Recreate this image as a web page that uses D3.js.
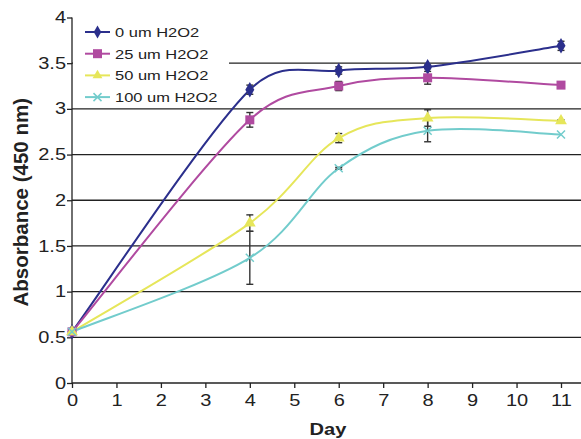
<!DOCTYPE html>
<html>
<head>
<script src="https://d3js.org/d3.v7.min.js"></script>
<style>
body { margin: 0; background: #fff; }
text { font-family: "Liberation Sans", Arial, sans-serif; fill: #222; }
</style>
</head>
<body>
<div id="chart"></div>
<script>
// Data
var days = [0, 4, 6, 8, 11];
var seriesNames = ["0 um H2O2", "25 um H2O2", "50 um H2O2", "100 um H2O2"];
var abs0   = [0.56, 3.21, 3.42, 3.46, 3.69];
var abs25  = [0.56, 2.88, 3.25, 3.34, 3.26];
var abs50  = [0.56, 1.75, 2.68, 2.90, 2.87];
var abs100 = [0.56, 1.37, 2.35, 2.76, 2.72];
var err0   = [0, 0.05, 0.04, 0.02, 0.05];
var err25  = [0, 0.08, 0.05, 0.07, 0];
var err50  = [0, 0.09, 0.05, 0.09, 0.01];
var err100 = [0, 0.29, 0.01, 0.12, 0];
var yTicks = [0, 0.5, 1, 1.5, 2, 2.5, 3, 3.5, 4];
var xTicks = [0, 1, 2, 3, 4, 5, 6, 7, 8, 9, 10, 11];
var colors = ["#2b2f8c", "#b04aa0", "#e6e65a", "#72cccc"];
var shapes = ["diamond", "square", "triangle", "cross"];

var series = seriesNames.map(function(n, i) {
  var v = [abs0, abs25, abs50, abs100][i];
  var e = [err0, err25, err50, err100][i];
  return { name: n, color: colors[i], shape: shapes[i],
    values: days.map(function(d, j) { return { day: d, v: v[j], e: e[j] }; }) };
});

var W = 581, H = 439;
var svg = d3.select("#chart").append("svg").attr("width", W).attr("height", H);
svg.append("rect").attr("width", W).attr("height", H).attr("fill", "#fff");

var x = d3.scaleLinear().domain([0, 11]).range([72, 561]);
var y = d3.scaleLinear().domain([0, 4]).range([383, 17.5]);
var stretch = 1.25;

// gridlines
svg.append("g").selectAll("line")
  .data(yTicks.filter(function(t) { return t > 0 && t < 4; }))
  .enter().append("line")
  .attr("x1", x(0)).attr("x2", W)
  .attr("y1", function(d) { return y(d); }).attr("y2", function(d) { return y(d); })
  .attr("stroke", "#222").attr("stroke-width", 1.3);

// axes
var yAxis = svg.append("g").attr("transform", "translate(" + x(0) + ",0)")
  .call(d3.axisLeft(y).tickValues(yTicks).tickSize(5).tickPadding(1)
    .tickFormat(function(d) { return d; }));
var xAxis = svg.append("g").attr("transform", "translate(0," + y(0) + ")")
  .call(d3.axisBottom(x).tickValues(xTicks).tickSize(5).tickPadding(7)
    .tickFormat(d3.format("d")));
[xAxis, yAxis].forEach(function(a) {
  a.select(".domain").remove();
  a.selectAll("line").attr("stroke", "#222").attr("stroke-width", 1.3);
  a.selectAll("text").attr("font-size", 16).attr("fill", "#222")
    .attr("font-family", "Liberation Sans, Arial, sans-serif")
    .attr("transform", "scale(" + stretch + ",1)");
});
yAxis.selectAll("text").attr("x", -6 / stretch);
svg.append("line").attr("x1", x(0)).attr("x2", x(0)).attr("y1", y(4)).attr("y2", y(0))
  .attr("stroke", "#222").attr("stroke-width", 1.3);
svg.append("line").attr("x1", x(0)).attr("x2", W).attr("y1", y(0)).attr("y2", y(0))
  .attr("stroke", "#222").attr("stroke-width", 1.3);

// titles
svg.append("text").attr("transform", "translate(28," + ((y(0) + y(4)) / 2 + 2) + ") rotate(-90)")
  .attr("text-anchor", "middle").attr("font-weight", "bold").attr("font-size", 20.5)
  .text("Absorbance (450 nm)");
svg.append("text").attr("transform", "translate(328,435) scale(1.18,1)")
  .attr("text-anchor", "middle").attr("font-weight", "bold").attr("font-size", 17)
  .text("Day");

// marker drawing
function marker(g, shape, color, size) {
  if (shape === "diamond") {
    g.append("path").attr("d", d3.symbol(d3.symbolDiamond, size * 7)()).attr("fill", color);
  } else if (shape === "square") {
    g.append("rect").attr("x", -4.5).attr("y", -4.5).attr("width", 9).attr("height", 9).attr("fill", color);
  } else if (shape === "triangle") {
    g.append("path").attr("d", d3.symbol(d3.symbolTriangle, size * 6)()).attr("fill", color);
  } else {
    g.append("path").attr("d", "M-4,-4L4,4M-4,4L4,-4").attr("stroke", color).attr("stroke-width", 1.5);
  }
}

// spreadsheet-style smoothed line: bezier with control vectors (P2-P0)/6,
// capped at half the segment length
function smoothPath(vals) {
  var p = vals.map(function(d) { return [x(d.day), y(d.v)]; });
  var path = d3.path();
  path.moveTo(p[0][0], p[0][1]);
  function ctrl(a, b, seg) {
    var dx = (b[0] - a[0]) / 6, dy = (b[1] - a[1]) / 6;
    var len = Math.hypot(dx, dy), cap = seg / 2;
    if (len > cap) { dx *= cap / len; dy *= cap / len; }
    return [dx, dy];
  }
  for (var i = 0; i < p.length - 1; i++) {
    var p0 = p[Math.max(i - 1, 0)], p1 = p[i], p2 = p[i + 1], p3 = p[Math.min(i + 2, p.length - 1)];
    var seg = Math.hypot(p2[0] - p1[0], p2[1] - p1[1]);
    var c1 = ctrl(p0, p2, seg), c2 = ctrl(p1, p3, seg);
    path.bezierCurveTo(p1[0] + c1[0], p1[1] + c1[1], p2[0] - c2[0], p2[1] - c2[1], p2[0], p2[1]);
  }
  return path.toString();
}

// lines
svg.append("g").selectAll("path").data(series).enter().append("path")
  .attr("d", function(d) { return smoothPath(d.values); })
  .attr("fill", "none").attr("stroke", function(d) { return d.color; })
  .attr("stroke-width", 2);

// error bars
series.forEach(function(s) {
  var eb = svg.append("g").selectAll("g").data(s.values.filter(function(d) { return d.e > 0; }))
    .enter().append("g").attr("stroke", "#333").attr("stroke-width", 1.4);
  eb.append("line").attr("x1", function(d) { return x(d.day); }).attr("x2", function(d) { return x(d.day); })
    .attr("y1", function(d) { return y(d.v - d.e); }).attr("y2", function(d) { return y(d.v + d.e); });
  [-1, 1].forEach(function(sg) {
    eb.append("line").attr("x1", function(d) { return x(d.day) - 3.5; }).attr("x2", function(d) { return x(d.day) + 3.5; })
      .attr("y1", function(d) { return y(d.v + sg * d.e); }).attr("y2", function(d) { return y(d.v + sg * d.e); });
  });
});

// markers
series.forEach(function(s) {
  svg.append("g").selectAll("g").data(s.values).enter().append("g")
    .attr("transform", function(d) { return "translate(" + x(d.day) + "," + y(d.v) + ")"; })
    .each(function() { marker(d3.select(this), s.shape, s.color, 10); });
});

// legend
var lg = svg.append("g");
lg.append("rect").attr("x", x(0) + 1).attr("y", 20).attr("width", 156).attr("height", 84).attr("fill", "#fff");
var item = lg.selectAll("g.item").data(series).enter().append("g").attr("class", "item")
  .attr("transform", function(d, i) { return "translate(0," + (32 + i * 21.7) + ")"; });
item.append("line").attr("x1", 85).attr("x2", 110).attr("stroke", function(d) { return d.color; }).attr("stroke-width", 2);
item.append("g").attr("transform", "translate(97.5,0)")
  .each(function(d) { marker(d3.select(this), d.shape, d.color, 7); });
item.append("text").attr("transform", "translate(115,5) scale(1.22,1)")
  .attr("font-size", 13.5).text(function(d) { return d.name; });
</script>
</body>
</html>
